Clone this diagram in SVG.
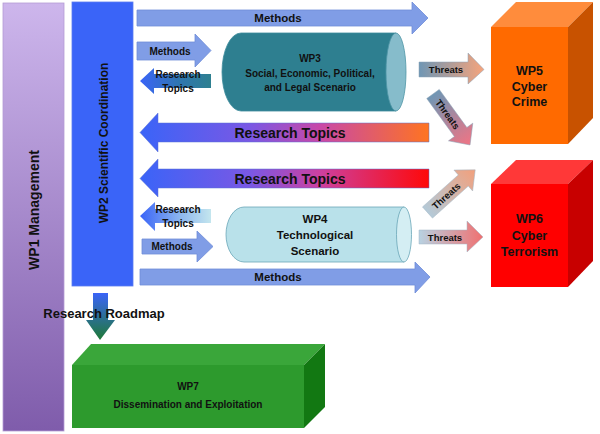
<svg xmlns="http://www.w3.org/2000/svg" width="600" height="434" viewBox="0 0 600 434">
<defs>
<style>
text{font-family:"Liberation Sans",Arial,sans-serif;font-weight:bold;fill:#111;text-anchor:middle}
.s{font-size:10px}
.m{font-size:11.5px}
.b{font-size:14px}
.t{font-size:9.5px}
.n{font-size:12.5px}
.meth{fill:#809de6;stroke:#6f8dd8;stroke-width:0.8}
</style>
<linearGradient id="gWP1" x1="0" y1="0" x2="0" y2="1">
<stop offset="0" stop-color="#cdb6ec"/><stop offset="1" stop-color="#7f5cab"/>
</linearGradient>
<linearGradient id="gRT1" gradientUnits="userSpaceOnUse" x1="140" y1="0" x2="430" y2="0">
<stop offset="0" stop-color="#3a64f8"/><stop offset="0.38" stop-color="#7a58e4"/><stop offset="0.62" stop-color="#c848a8"/><stop offset="1" stop-color="#ff7420"/>
</linearGradient>
<linearGradient id="gRT2" gradientUnits="userSpaceOnUse" x1="140" y1="0" x2="430" y2="0">
<stop offset="0" stop-color="#3a64f8"/><stop offset="0.38" stop-color="#7a58e4"/><stop offset="0.62" stop-color="#cc40a0"/><stop offset="1" stop-color="#ff0808"/>
</linearGradient>
<linearGradient id="gRTs1" gradientUnits="userSpaceOnUse" x1="140" y1="0" x2="211" y2="0">
<stop offset="0" stop-color="#3a64f8"/><stop offset="0.55" stop-color="#2f76b0"/><stop offset="1" stop-color="#2e8090"/>
</linearGradient>
<linearGradient id="gRTs2" gradientUnits="userSpaceOnUse" x1="140" y1="0" x2="211" y2="0">
<stop offset="0" stop-color="#3a64f8"/><stop offset="0.55" stop-color="#8ab4ee"/><stop offset="1" stop-color="#c4e6ee"/>
</linearGradient>
<linearGradient id="gTh1" x1="0" y1="0" x2="1" y2="0">
<stop offset="0" stop-color="#6f96b4"/><stop offset="1" stop-color="#f6a47c"/>
</linearGradient>
<linearGradient id="gTh2" x1="0" y1="0" x2="1" y2="0">
<stop offset="0" stop-color="#6f96b4"/><stop offset="1" stop-color="#f07484"/>
</linearGradient>
<linearGradient id="gTh3" x1="0" y1="0" x2="1" y2="0">
<stop offset="0" stop-color="#b4cad8"/><stop offset="1" stop-color="#f2a07c"/>
</linearGradient>
<linearGradient id="gTh4" x1="0" y1="0" x2="1" y2="0">
<stop offset="0" stop-color="#b8d2e2"/><stop offset="1" stop-color="#f07070"/>
</linearGradient>
<linearGradient id="gRM" x1="0" y1="0" x2="0" y2="1">
<stop offset="0" stop-color="#3a64f8"/><stop offset="1" stop-color="#1e7a36"/>
</linearGradient>
</defs>

<g id="wp1">
<rect x="3" y="3" width="61" height="428" fill="url(#gWP1)" stroke="#b49cd4" stroke-width="0.8"/>
<text style="font-size:14px" transform="translate(39,210) rotate(-90)">WP1  Management</text>
</g>

<g id="wp2">
<rect x="72" y="2" width="61" height="284" fill="#3a64f8" stroke="#5a7cf0" stroke-width="0.8"/>
<text style="font-size:12px" transform="translate(108,143) rotate(-90)">WP2  Scientific Coordination</text>
</g>

<g id="wp3">
<path d="M241,33 H396 V111 H241 A19,39 0 0 1 241,33 Z" fill="#2e7f90" stroke="#3d8c9c" stroke-width="0.8"/>
<ellipse cx="396" cy="72" rx="10" ry="39" fill="#86bccb" stroke="#4f96a6" stroke-width="0.8"/>
<text class="s" x="310" y="62">WP3</text>
<text class="s" x="310" y="77">Social, Economic, Political,</text>
<text class="s" x="310" y="91">and Legal Scenario</text>
</g>

<g id="wp4">
<path d="M244,207 H404 V262 H244 A18,27.5 0 0 1 244,207 Z" fill="#b9e1ea" stroke="#6aa6b8" stroke-width="0.8"/>
<ellipse cx="404" cy="234.5" rx="7.5" ry="27.5" fill="#d4eef3" stroke="#6aa6b8" stroke-width="0.8"/>
<text class="m" x="315" y="223">WP4</text>
<text class="m" x="315" y="239">Technological</text>
<text class="m" x="315" y="255">Scenario</text>
</g>

<g id="wp5">
<polygon points="491,27 516,2 593,2 568,27" fill="#ff8c3c"/>
<polygon points="568,27 593,2 593,118 568,144" fill="#c85200"/>
<rect x="491" y="27" width="77" height="117" fill="#ff6a00"/>
<text class="n" x="529.5" y="75">WP5</text>
<text class="n" x="529.5" y="91">Cyber</text>
<text class="n" x="529.5" y="106">Crime</text>
</g>

<g id="wp6">
<polygon points="491,184 516,160 593,160 568,184" fill="#ff3838"/>
<polygon points="568,184 593,160 593,261 568,287" fill="#c80000"/>
<rect x="491" y="184" width="77" height="103" fill="#ff0000"/>
<text class="n" x="529.5" y="223">WP6</text>
<text class="n" x="529.5" y="240">Cyber</text>
<text class="n" x="529.5" y="256">Terrorism</text>
</g>

<g id="wp7">
<polygon points="72,365 91,344 325,344 304,365" fill="#3aa63a"/>
<polygon points="304,365 325,344 325,407 304,428" fill="#127812"/>
<rect x="72" y="365" width="232" height="63" fill="#2d9a2d"/>
<text style="font-size:10px" x="188" y="390">WP7</text>
<text style="font-size:10px" x="188" y="408">Dissemination and Exploitation</text>
</g>

<g id="connectors">
<polygon class="meth" points="137,10 412,10 412,2 428,18 412,34 412,26 137,26"/>
<text class="m" x="278" y="22">Methods</text>
<polygon class="meth" points="137,42 195,42 195,34 211,50.5 195,67 195,60 137,60"/>
<text class="s" x="170" y="55">Methods</text>
<polygon fill="url(#gRTs1)" points="211,74 211,88 154,88 154,94 140,81 154,68 154,74"/>
<text class="s" x="178" y="78">Research</text>
<text class="s" x="178" y="92">Topics</text>
<polygon fill="url(#gRT1)" stroke="#5a70d0" stroke-width="0.5" points="429,123 429,142 158,142 158,152 140,132.5 158,113 158,123"/>
<text class="b" x="290" y="138">Research Topics</text>
<polygon fill="url(#gRT2)" stroke="#5a70d0" stroke-width="0.5" points="429,169 429,188 158,188 158,197 140,178.5 158,159 158,169"/>
<text class="b" x="290" y="184">Research Topics</text>
<polygon fill="url(#gRTs2)" points="211,209 211,223 155,223 155,231 140,216 155,202 155,209"/>
<text class="s" x="178" y="213">Research</text>
<text class="s" x="178" y="227">Topics</text>
<polygon class="meth" points="142,239 197,239 197,231 213,246.5 197,262 197,254 142,254"/>
<text class="s" x="172" y="250">Methods</text>
<polygon class="meth" points="140,269 415,269 415,262 430,277 415,293 415,285 140,285"/>
<text class="m" x="278" y="281">Methods</text>
<polygon fill="url(#gTh1)" stroke="#8aa0b4" stroke-width="0.5" points="419,62 468,62 468,53 484,69.5 468,84 468,77 419,77"/>
<text class="t" x="446" y="73">Threats</text>
<g transform="translate(433,94) rotate(54)">
<polygon fill="url(#gTh2)" stroke="#8aa0b4" stroke-width="0.5" points="0,-7.7 47,-7.7 47,-15 63,0 47,15 47,7.7 0,7.7"/>
<text class="t" x="25" y="3.5">Threats</text>
</g>
<g transform="translate(427.5,212.5) rotate(-41.8)">
<polygon fill="url(#gTh3)" stroke="#a0b4c4" stroke-width="0.5" points="0,-7.5 48,-7.5 48,-14 64,0 48,14 48,7.5 0,7.5"/>
<text class="t" x="25" y="3.5">Threats</text>
</g>
<polygon fill="url(#gTh4)" stroke="#a0b4c4" stroke-width="0.5" points="419,230 467,230 467,221 483,237 467,252 467,244 419,244"/>
<text class="t" x="445" y="241">Threats</text>
<polygon fill="url(#gRM)" points="93,293 108,293 108,320 115,320 100,340 86,320 93,320"/>
<text style="font-size:13px" x="104" y="318">Research Roadmap</text>
</g>
</svg>
